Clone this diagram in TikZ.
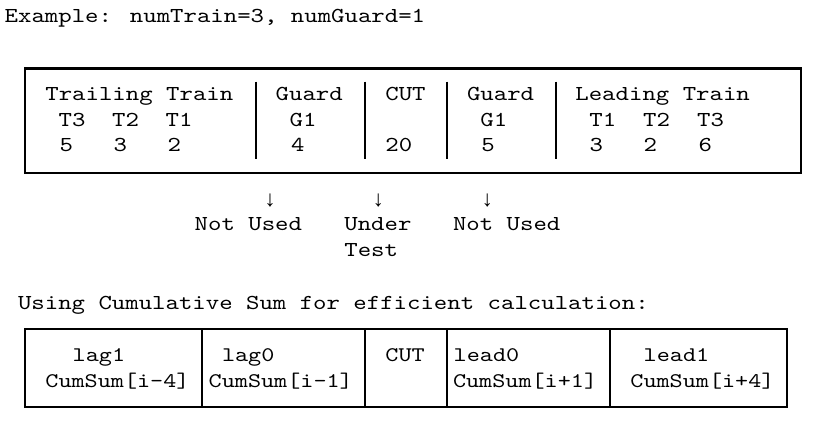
\documentclass[tikz,border=0pt]{standalone}
\usepackage{fontspec}
\newfontfamily\mono[FakeStretch=1.2]{lmmono10-regular.otf}
\newfontfamily\arrfont{Liberation Mono}
\tikzset{
  big/.style={font=\mono\fontsize{21.3}{26}\selectfont, anchor=base west, inner sep=0pt},
  small/.style={font=\mono\fontsize{20.8}{26}\selectfont, anchor=base west, inner sep=0pt},
  arr/.style={font=\arrfont\fontsize{22.4}{26}\selectfont, anchor=base, inner sep=0pt},
  frame/.style={line width=2pt},
  sepline/.style={line width=2pt}
}
\begin{document}
\begin{tikzpicture}[x=1pt,y=-1pt]
\fill[white] (0,0) rectangle (832,428);
\useasboundingbox (0,0) rectangle (832,428);
% title
\node[big] (title) at (4.5,22.7) {Example: numTrain=3, numGuard=1};
% top box
\draw[frame] (25,68.5) rectangle (800.5,172.5);
\coordinate (s1t) at (256.3,81.7); \coordinate (s1b) at (256.3,159.3);
\coordinate (s2t) at (365.3,81.7); \coordinate (s2b) at (365.3,159.3);
\coordinate (s3t) at (446.7,81.7); \coordinate (s3b) at (446.7,159.3);
\coordinate (s4t) at (555.7,81.7); \coordinate (s4b) at (555.7,159.3);
\draw[sepline] (s1t) -- (s1b);
\draw[sepline] (s2t) -- (s2b);
\draw[sepline] (s3t) -- (s3b);
\draw[sepline] (s4t) -- (s4b);
% row 1
\node[big] (trail) at (45.2,100.7) {Trailing Train};
\node[big] (guardA) at (275.5,100.7) {Guard};
\node[big] (cutA) at (385.2,100.7) {CUT};
\node[big] (guardB) at (466.8,100.7) {Guard};
\node[big] (lead) at (575.2,100.7) {Leading Train};
% row 2
\node[big] (tt3) at (58.5,126) {T3};
\node[big] (tt2) at (112,126) {T2};
\node[big] (tt1) at (165.5,126) {T1};
\node[big] (g1a) at (289.5,126) {G1};
\node[big] (g1b) at (480.2,126) {G1};
\node[big] (lt1) at (589.2,126) {T1};
\node[big] (lt2) at (643,126) {T2};
\node[big] (lt3) at (697,126) {T3};
% row 3
\node[big] (v5a) at (59.5,151.7) {5};
\node[big] (v3a) at (113.5,151.7) {3};
\node[big] (v2a) at (167.5,151.7) {2};
\node[big] (v4) at (290.8,151.7) {4};
\node[big] (v20) at (385.2,151.7) {20};
\node[big] (v5b) at (481.2,151.7) {5};
\node[big] (v3b) at (589.5,151.7) {3};
\node[big] (v2b) at (643.5,151.7) {2};
\node[big] (v6) at (698.5,151.7) {6};
% arrows and labels
\node[arr] (a1) at (270,206) {↓};
\node[arr] (a2) at (378.3,206) {↓};
\node[arr] (a3) at (487.3,206) {↓};
\node[big] (nu1) at (194.5,230) {Not Used};
\node[big] (under) at (344.2,230) {Under};
\node[big] (test) at (344.2,256.7) {Test};
\node[big] (nu2) at (452.8,230) {Not Used};
% second caption
\node[big] (using) at (17.8,309.3) {Using Cumulative Sum for efficient calculation:};
% bottom box
\draw[frame] (25,329) rectangle (787.3,406.7);
\coordinate (d1t) at (202.3,329); \coordinate (d1b) at (202.3,406.7);
\coordinate (d2t) at (365.3,329); \coordinate (d2b) at (365.3,406.7);
\coordinate (d3t) at (446.7,329); \coordinate (d3b) at (446.7,406.7);
\coordinate (d4t) at (610.3,329); \coordinate (d4b) at (610.3,406.7);
\draw[sepline] (d1t) -- (d1b);
\draw[sepline] (d2t) -- (d2b);
\draw[sepline] (d3t) -- (d3b);
\draw[sepline] (d4t) -- (d4b);
\node[small] (lag1) at (72.5,361.7) {lag1};
\node[small] (cs1) at (45.2,387.3) {CumSum[i-4]};
\node[small] (lag0) at (221.8,361.7) {lag0};
\node[small] (cs2) at (208.5,387.3) {CumSum[i-1]};
\node[small] (cutB) at (385.2,361.7) {CUT};
\node[small] (lead0) at (453.5,361.7) {lead0};
\node[small] (cs3) at (452.8,387.3) {CumSum[i+1]};
\node[small] (lead1) at (643.5,361.7) {lead1};
\node[small] (cs4) at (630.2,387.3) {CumSum[i+4]};
\end{tikzpicture}
\end{document}
